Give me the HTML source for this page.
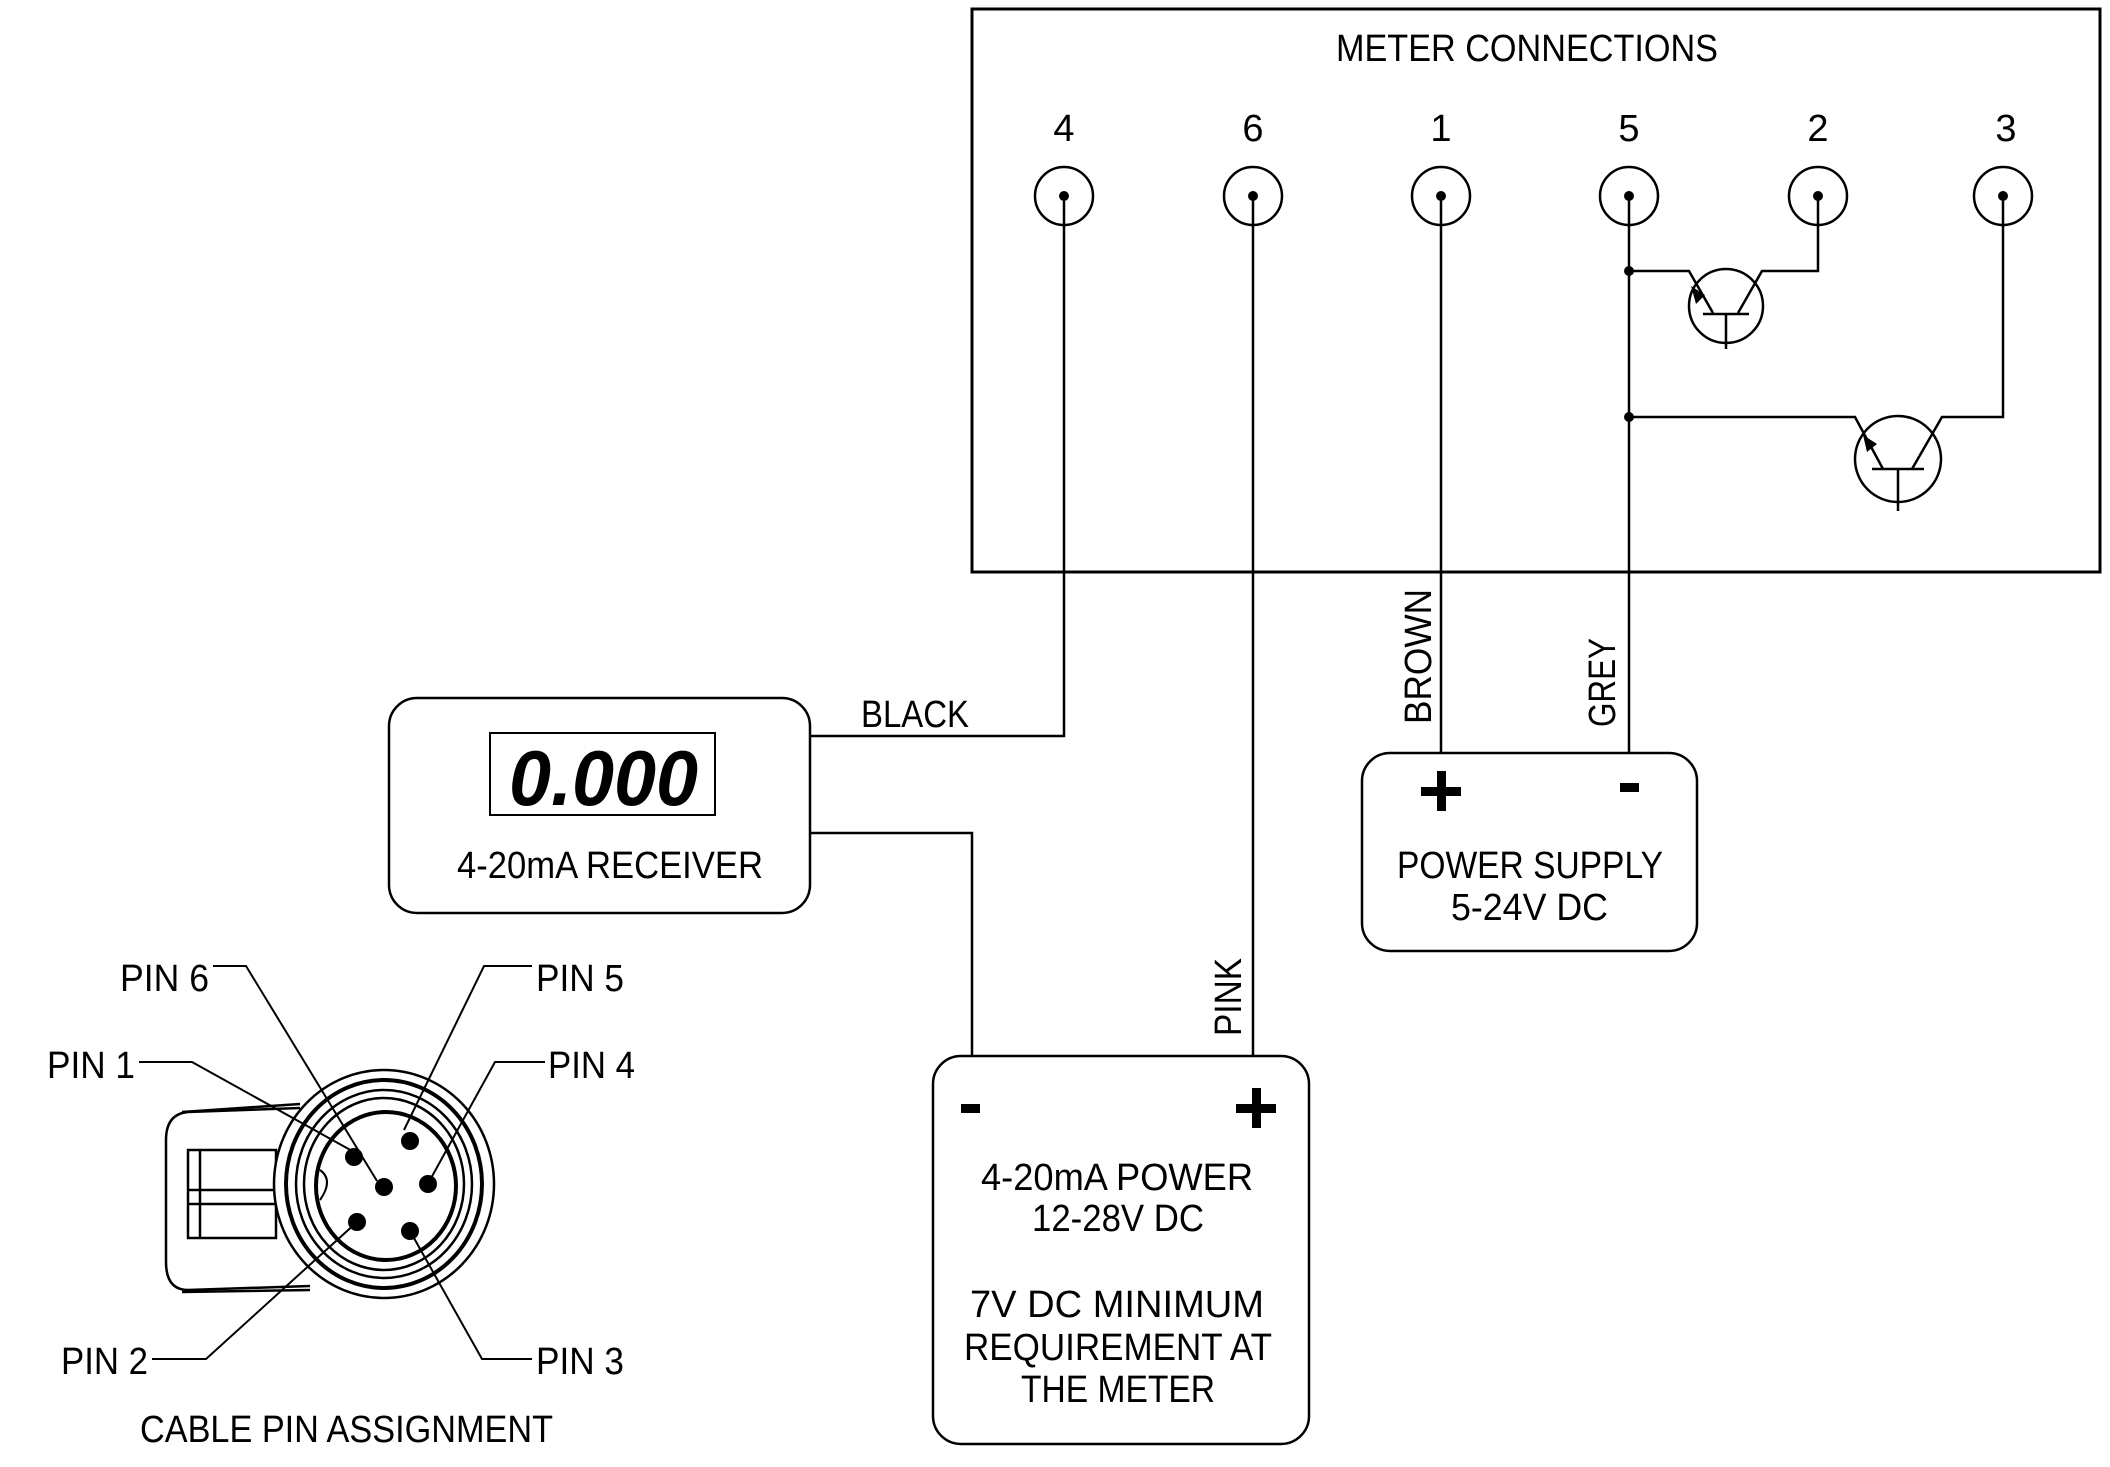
<!DOCTYPE html>
<html><head><meta charset="utf-8"><style>
html,body{margin:0;padding:0;background:#fff;}
svg{display:block;}
text{font-family:"Liberation Sans",sans-serif;fill:#000;}
</style></head><body>
<svg width="2110" height="1467" viewBox="0 0 2110 1467" xmlns="http://www.w3.org/2000/svg">
<g fill="none" stroke="#000" stroke-width="2.5">
<rect x="972" y="9" width="1128" height="563" stroke-width="3"/>
<circle cx="1064" cy="196" r="29"/><circle cx="1253" cy="196" r="29"/><circle cx="1441" cy="196" r="29"/>
<circle cx="1629" cy="196" r="29"/><circle cx="1818" cy="196" r="29"/><circle cx="2003" cy="196" r="29"/>
<polyline points="1064,196 1064,736 810,736"/>
<polyline points="1253,196 1253,1056"/>
<polyline points="1441,196 1441,753"/>
<polyline points="1629,196 1629,753"/>
<polyline points="810,833 972,833 972,1056"/>
<polyline points="1629,271 1689,271 1713,313"/>
<polyline points="1818,196 1818,271 1762,271 1738,313"/>
<circle cx="1726" cy="306" r="37"/>
<line x1="1703" y1="314" x2="1749" y2="314"/>
<line x1="1726" y1="314" x2="1726" y2="349"/>
<polyline points="1629,417 1855,417 1883,469"/>
<polyline points="2003,196 2003,417 1942,417 1912,469"/>
<circle cx="1898" cy="459" r="43"/>
<line x1="1872" y1="469" x2="1924" y2="469"/>
<line x1="1898" y1="469" x2="1898" y2="511"/>
<rect x="389" y="698" width="421" height="215" rx="28"/>
<rect x="490" y="733" width="225" height="82" stroke-width="2"/>
<rect x="1362" y="753" width="335" height="198" rx="28"/>
<rect x="933" y="1056" width="376" height="388" rx="28"/>
</g>
<g fill="#000">
<circle cx="1064" cy="196" r="5"/><circle cx="1253" cy="196" r="5"/><circle cx="1441" cy="196" r="5"/>
<circle cx="1629" cy="196" r="5"/><circle cx="1818" cy="196" r="5"/><circle cx="2003" cy="196" r="5"/>
<circle cx="1629" cy="271" r="5"/><circle cx="1629" cy="417" r="5"/>
<polygon points="1691,286 1705,295 1696,304"/>
<polygon points="1863,435 1877,444 1867,452"/>
<rect x="1421" y="787" width="40" height="9"/><rect x="1437" y="771" width="9" height="40"/>
<rect x="1620" y="783" width="19" height="9"/>
<rect x="1236" y="1104" width="40" height="9"/><rect x="1252" y="1088" width="9" height="40"/>
<rect x="961" y="1104" width="19" height="9"/>
</g>
<g font-size="38" lengthAdjust="spacingAndGlyphs">
<text x="1336" y="61" textLength="382" lengthAdjust="spacingAndGlyphs">METER CONNECTIONS</text>
<text x="1064" y="141" text-anchor="middle">4</text>
<text x="1253" y="141" text-anchor="middle">6</text>
<text x="1441" y="141" text-anchor="middle">1</text>
<text x="1629" y="141" text-anchor="middle">5</text>
<text x="1818" y="141" text-anchor="middle">2</text>
<text x="2006" y="141" text-anchor="middle">3</text>
<text x="861" y="727" textLength="108" lengthAdjust="spacingAndGlyphs">BLACK</text>
<text x="457" y="878" textLength="306" lengthAdjust="spacingAndGlyphs">4-20mA RECEIVER</text>
<text x="1397" y="878" textLength="266" lengthAdjust="spacingAndGlyphs">POWER SUPPLY</text>
<text x="1451" y="920" textLength="157" lengthAdjust="spacingAndGlyphs">5-24V DC</text>
<text x="981" y="1190" textLength="272" lengthAdjust="spacingAndGlyphs">4-20mA POWER</text>
<text x="1032" y="1231" textLength="172" lengthAdjust="spacingAndGlyphs">12-28V DC</text>
<text x="970" y="1317" textLength="294" lengthAdjust="spacingAndGlyphs">7V DC MINIMUM</text>
<text x="964" y="1360" textLength="308" lengthAdjust="spacingAndGlyphs">REQUIREMENT AT</text>
<text x="1021" y="1402" textLength="194" lengthAdjust="spacingAndGlyphs">THE METER</text>
<text transform="translate(1431,724) rotate(-90)" textLength="135" lengthAdjust="spacingAndGlyphs">BROWN</text>
<text transform="translate(1615,727) rotate(-90)" textLength="89" lengthAdjust="spacingAndGlyphs">GREY</text>
<text transform="translate(1241,1036) rotate(-90)" textLength="78" lengthAdjust="spacingAndGlyphs">PINK</text>
<text x="120" y="991" textLength="89" lengthAdjust="spacingAndGlyphs">PIN 6</text>
<text x="536" y="991" textLength="88" lengthAdjust="spacingAndGlyphs">PIN 5</text>
<text x="47" y="1078" textLength="88" lengthAdjust="spacingAndGlyphs">PIN 1</text>
<text x="548" y="1078" textLength="87" lengthAdjust="spacingAndGlyphs">PIN 4</text>
<text x="61" y="1374" textLength="87" lengthAdjust="spacingAndGlyphs">PIN 2</text>
<text x="536" y="1374" textLength="88" lengthAdjust="spacingAndGlyphs">PIN 3</text>
<text x="140" y="1442" textLength="413" lengthAdjust="spacingAndGlyphs">CABLE PIN ASSIGNMENT</text>
</g>
<text x="509" y="805" font-size="78" font-weight="bold" font-style="italic" textLength="189" lengthAdjust="spacingAndGlyphs">0.000</text>
<g fill="none" stroke="#000" stroke-width="2.5">
<path d="M300,1108 L188,1112 Q166,1114 166,1140 L166,1262 Q166,1290 188,1290 L310,1286"/>
<path d="M182,1112 L300,1104"/>
<path d="M182,1292 L310,1290"/>
<rect x="188" y="1150" width="88" height="88"/>
<line x1="188" y1="1190" x2="276" y2="1190"/>
<line x1="188" y1="1204" x2="276" y2="1204"/>
<line x1="200" y1="1150" x2="200" y2="1238"/>
<ellipse cx="384" cy="1184" rx="110" ry="114" fill="#fff"/>
<ellipse cx="384" cy="1184" rx="98" ry="104" stroke-width="4"/>
<ellipse cx="384" cy="1184" rx="88" ry="94"/>
<ellipse cx="384" cy="1184" rx="80" ry="86"/>
<ellipse cx="386" cy="1186" rx="70" ry="74" stroke-width="4"/>
<path d="M320,1170 Q334,1180 320,1200" stroke-width="2"/>
<polyline points="213,966 246,966 377,1181" stroke-width="2"/>
<polyline points="532,966 484,966 404,1130" stroke-width="2"/>
<polyline points="139,1062 192,1062 354,1152" stroke-width="2"/>
<polyline points="545,1062 495,1062 430,1180" stroke-width="2"/>
<polyline points="152,1359 206,1359 357,1222" stroke-width="2"/>
<polyline points="532,1359 482,1359 410,1231" stroke-width="2"/>
</g>
<g fill="#000">
<circle cx="354" cy="1157" r="9"/><circle cx="410" cy="1141" r="9"/><circle cx="384" cy="1187" r="9"/>
<circle cx="428" cy="1184" r="9"/><circle cx="357" cy="1222" r="9"/><circle cx="410" cy="1231" r="9"/>
</g>
</svg>
</body></html>
